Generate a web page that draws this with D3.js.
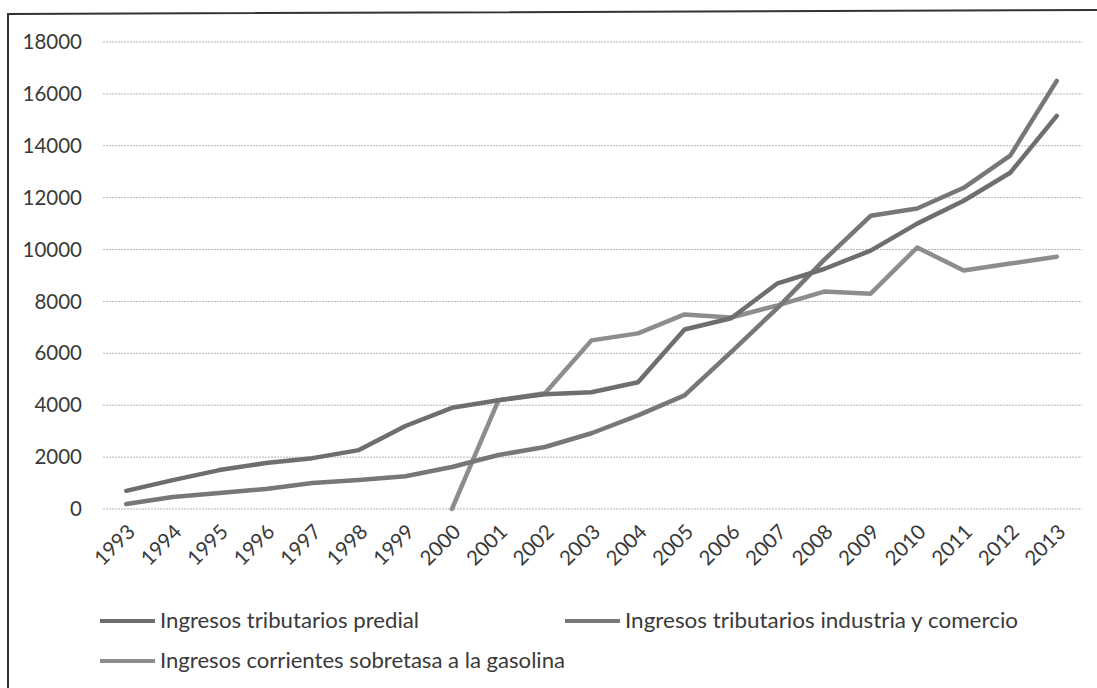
<!DOCTYPE html>
<html>
<head>
<meta charset="utf-8">
<script src="https://cdn.jsdelivr.net/npm/d3@7"></script>
<style>
  body { margin: 0; background: #fff; }
  text { font-family: Lato, "Open Sans", sans-serif; fill: #3a3a3a; }
</style>
</head>
<body>
<div id="chartContainer"></div>
<script>
let years = ["1993", "1994", "1995", "1996", "1997", "1998", "1999", "2000", "2001", "2002", "2003",
    "2004", "2005", "2006", "2007", "2008", "2009", "2010", "2011", "2012", "2013"];
let predial = [700, 1115, 1500, 1770, 1960, 2270, 3200, 3900, 4190, 4420, 4500,
    4885, 6920, 7350, 8700, 9250, 9960, 11000, 11880, 12960, 15150];
let industria = [190, 460, 620, 770, 1000, 1115, 1260, 1620, 2080, 2390, 2920,
    3610, 4380, 6050, 7750, 9600, 11300, 11580, 12380, 13620, 16500];
let gasolina = [null, null, null, null, null, null, null, 0, 4190, 4460, 6500,
    6770, 7500, 7380, 7850, 8380, 8300, 10080, 9190, 9460, 9720];
let yTicks = [0, 2000, 4000, 6000, 8000, 10000, 12000, 14000, 16000, 18000];
let seriesNames = ["Ingresos tributarios predial", "Ingresos tributarios industria y comercio",
    "Ingresos corrientes sobretasa a la gasolina"];

let width = 1097, height = 688;

let svg = d3.select("#chartContainer")
    .append("svg")
    .attr("width", width)
    .attr("height", height);

// frame of the scanned chart (only top and left edges are visible)
svg.append("path")
    .attr("d", "M8,688 L8,14 L1097,10")
    .attr("fill", "none")
    .attr("stroke", "#333")
    .attr("stroke-width", 2);

let x = d3.scalePoint()
    .domain(years)
    .range([103, 1080])
    .padding(0.5);

let y = d3.scaleLinear()
    .domain([0, 18000])
    .range([509, 42]);

// grid lines
svg.append("g")
    .selectAll("line")
    .data(yTicks)
    .join("line")
    .attr("x1", 103)
    .attr("x2", 1082)
    .attr("y1", d => y(d))
    .attr("y2", d => y(d))
    .attr("stroke", "#b4b4b4")
    .attr("stroke-width", 1)
    .attr("stroke-dasharray", "2,1");

// y axis labels
let yAxis = svg.append("g")
    .attr("transform", "translate(88,0)")
    .call(d3.axisLeft(y).tickValues(yTicks).tickFormat(d3.format("d")).tickSize(0).tickPadding(6));
yAxis.select(".domain").remove();
yAxis.selectAll("text")
    .style("font-size", "20.5px")
    .attr("fill", "#333");

// x axis labels, rotated
svg.append("g")
    .selectAll("text")
    .data(years)
    .join("text")
    .attr("transform", d => "translate(" + (x(d) + 5) + ",528) rotate(-45)")
    .attr("text-anchor", "end")
    .attr("dy", "0.35em")
    .style("font-size", "20.5px")
    .text(d => d);

let colors = ["#6e6e6e", "#777777", "#8d8d8d"];
let allSeries = [predial, industria, gasolina];

let line = d3.line()
    .defined(d => d != null)
    .x((d, i) => x(years[i]))
    .y(d => y(d));

// draw gasolina first so the other two sit on top
[2, 1, 0].forEach(k => {
    svg.append("path")
        .datum(allSeries[k])
        .attr("fill", "none")
        .attr("stroke", colors[k])
        .attr("stroke-width", 4.5)
        .attr("stroke-linejoin", "round")
        .attr("stroke-linecap", "round")
        .attr("d", line);
});

// legend
let legendItems = [
    { x: 100, y: 621, len: 259 },
    { x: 565, y: 621, len: 393 },
    { x: 100, y: 661, len: 405 }
];
let legend = svg.append("g");
legendItems.forEach((it, k) => {
    legend.append("line")
        .attr("x1", it.x)
        .attr("x2", it.x + 55)
        .attr("y1", it.y)
        .attr("y2", it.y)
        .attr("stroke", colors[k])
        .attr("stroke-width", 4);
    legend.append("text")
        .attr("x", it.x + 60)
        .attr("y", it.y)
        .attr("dy", "0.35em")
        .attr("textLength", it.len)
        .attr("lengthAdjust", "spacingAndGlyphs")
        .style("font-size", "21px")
        .text(seriesNames[k]);
});
</script>
</body>
</html>
